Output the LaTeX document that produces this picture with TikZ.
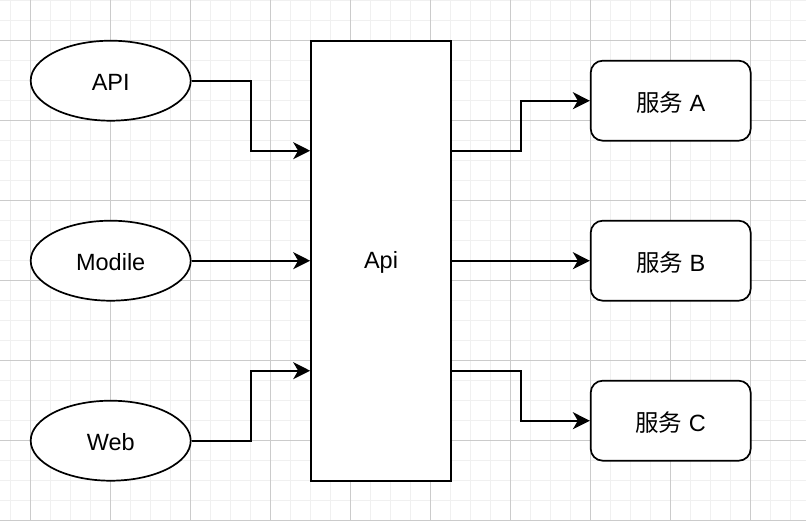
\documentclass[tikz,border=0pt]{standalone}
\usepackage{fontspec}
\setmainfont{Liberation Sans}
\newfontfamily\cjk{Noto Sans CJK SC}
\usetikzlibrary{shapes.geometric,arrows.meta}
\definecolor{gridminor}{HTML}{F0F0F0}
\definecolor{gridmajor}{HTML}{CBCBCB}
\tikzset{
  shp/.style={draw=black, line width=1.7pt, fill=white, inner sep=0pt, font=\fontsize{23.5}{27}\selectfont},
  oval/.style={shp, ellipse, minimum width=160pt, minimum height=80pt},
  svc/.style={shp, rectangle, rounded corners=12pt, minimum width=160pt, minimum height=80pt},
  gate/.style={shp, rectangle, minimum width=140pt, minimum height=440pt},
  arr/.style={draw=black, line width=1.7pt, -{Stealth[length=17pt, width=17pt, inset=5pt]}},
  lbl/.style={font=\fontsize{23.5}{27}\selectfont, inner sep=0pt},
}
\begin{document}
\begin{tikzpicture}[x=1pt, y=-1pt]
\useasboundingbox (0,0) rectangle (806,520);
\fill[white] (0,0) rectangle (806,520);
% minor grid
\foreach \i in {0,...,40} {
  \draw[gridminor, line width=1pt] ({10+20*\i},0) -- ({10+20*\i},520);
}
\foreach \j in {0,...,26} {
  \draw[gridminor, line width=1pt] (0,{20*\j}) -- (806,{20*\j});
}
% major grid
\foreach \i in {0,...,9} {
  \draw[gridmajor, line width=1pt] ({30+80*\i},0) -- ({30+80*\i},520);
}
\foreach \j in {0,...,6} {
  \draw[gridmajor, line width=1pt] (0,{40+80*\j}) -- (806,{40+80*\j});
}
% nodes
\node[oval] (api) at (110.7,80.7) {};
\node[oval] (mod) at (110.7,260.7) {};
\node[oval] (web) at (110.7,440.7) {};
\node[gate] (gw) at (381,261) {};
\node[svc] (sa) at (670.7,100.7) {};
\node[svc] (sb) at (670.7,260.7) {};
\node[svc] (sc) at (670.7,420.7) {};
% labels
\node[lbl] (tapi) at ([yshift=-1.5pt]api.center) {API};
\node[lbl] (tmod) at ([yshift=-1.5pt]mod.center) {Modile};
\node[lbl] (tweb) at ([yshift=-1.5pt]web.center) {Web};
\node[lbl] (tgw) at ([yshift=-1.5pt]gw.center) {Api};
\node[lbl] (tsa) at ([yshift=-1.5pt]sa.center) {{\cjk 服务} A};
\node[lbl] (tsb) at ([yshift=-1.5pt]sb.center) {{\cjk 服务} B};
\node[lbl] (tsc) at ([yshift=-1.5pt]sc.center) {{\cjk 服务} C};
% connectors
\draw[arr] (api.east) -- (250.7,80.7) -- (250.7,150.7) -- (gw.west |- 0,150.7);
\draw[arr] (mod.east) -- (gw.west |- mod.east);
\draw[arr] (web.east) -- (250.7,440.7) -- (250.7,370.7) -- (gw.west |- 0,370.7);
\draw[arr] (gw.east |- 0,150.7) -- (520.7,150.7) -- (520.7,100.7) -- (sa.west);
\draw[arr] (gw.east |- sb.west) -- (sb.west);
\draw[arr] (gw.east |- 0,370.7) -- (520.7,370.7) -- (520.7,420.7) -- (sc.west);
\end{tikzpicture}
\end{document}
